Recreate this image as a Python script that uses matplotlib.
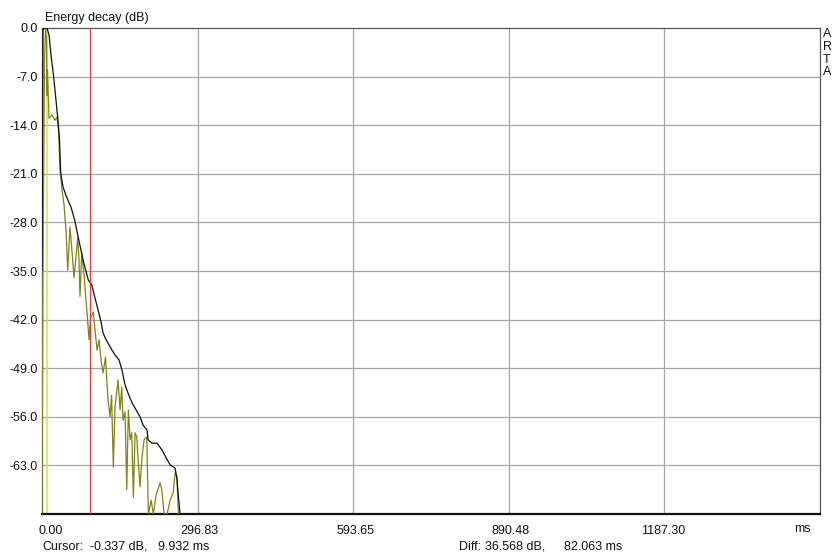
import matplotlib
matplotlib.use("Agg")
import matplotlib.pyplot as plt
import matplotlib.transforms as mtransforms

plt.rcParams['font.family'] = ['Liberation Sans', 'DejaVu Sans']

# Time axis (ms) and level axis (dB)
x_ticks = [0.00, 296.83, 593.65, 890.48, 1187.30]
x_max = 1484.13
y_ticks = [0.0, -7.0, -14.0, -21.0, -28.0, -35.0, -42.0, -49.0, -56.0, -63.0]
y_min = -70.0

# Integrated energy decay (black)
decay_t = [0.0, 1.9, 3.8, 9.5, 13.4, 17.2, 22.3, 26.7, 30.5, 33.4, 35.7, 40.1,
           45.8, 49.6, 55.4, 62.4, 70.1, 74.4, 78.3, 83.4, 88.4, 94.9, 101.2,
           106.9, 112.6, 116.4, 122.2, 126.0, 133.6, 139.3, 146.9, 152.7,
           158.4, 164.2, 171.8, 179.4, 187.1, 192.8, 200.4, 202.3, 210.0,
           219.5, 229.1, 236.7, 244.3, 253.9, 257.7, 259.6, 263.4, 265.3]
decay_db = [-34.9, -0.3, 0.0, 0.0, -1.0, -3.9, -7.1, -10.4, -13.3, -16.1, -20.9,
            -22.9, -24.1, -24.8, -25.8, -27.7, -30.5, -32.0, -33.4, -34.9,
            -36.3, -37.0, -38.9, -40.6, -42.3, -43.9, -44.9, -45.4, -46.4,
            -47.1, -47.8, -49.3, -51.4, -52.6, -54.0, -55.0, -56.0, -57.2,
            -57.9, -59.3, -59.8, -59.8, -60.8, -61.9, -62.9, -63.4, -65.1,
            -67.0, -70.0, -72.0]

# Energy-time curve (olive)
etc_t = [0.0, 1.9, 4.8, 6.7, 8.6, 9.5, 10.5, 13.4, 19.1, 24.8, 28.6, 31.5,
         34.4, 38.2, 42.0, 45.8, 49.1, 53.4, 56.3, 61.1, 68.1, 70.6, 72.5,
         75.8, 80.2, 86.5, 89.7, 92.6, 97.9, 101.2, 105.0, 108.8, 112.6,
         116.4, 121.2, 124.1, 126.0, 129.8, 132.7, 136.1, 139.3, 145.1,
         148.9, 152.1, 154.6, 158.4, 161.7, 164.7, 168.0, 171.2, 174.3,
         177.5, 180.8, 183.8, 187.1, 190.3, 194.7, 199.9, 202.9, 208.1,
         212.4, 217.6, 225.2, 228.5, 232.9, 238.6, 244.3, 250.1, 253.9,
         257.1, 260.2, 262.0]
etc_db = [-70.0, -34.9, -4.6, 0.0, -1.7, -9.7, -6.0, -13.0, -12.5, -13.3,
          -12.8, -14.7, -20.5, -23.3, -25.5, -29.1, -34.9, -28.7, -31.3,
          -36.0, -30.2, -33.4, -38.7, -32.4, -35.6, -41.6, -44.9, -41.8,
          -40.9, -43.5, -46.4, -44.9, -47.8, -49.7, -47.4, -51.4, -53.6,
          -56.0, -52.9, -63.2, -54.6, -50.7, -55.0, -51.7, -56.5, -55.3,
          -66.5, -55.0, -59.3, -58.3, -67.6, -58.3, -58.9, -62.7, -66.1,
          -62.2, -59.3, -58.9, -70.0, -68.0, -70.0, -67.3, -65.5, -66.5,
          -70.0, -70.0, -68.0, -67.0, -64.1, -64.4, -70.0, -73.0]

cursor_t = 9.932
diff_t = 82.063
marker_t = cursor_t + diff_t

W, H = 834, 556
fig = plt.figure(figsize=(W / 100, H / 100), dpi=100)
L, R, T, B = 42, 820, 28, 514
ax = fig.add_axes([L / W, 1 - B / H, (R - L) / W, (B - T) / H])
ax.set_xlim(0, x_max)
ax.set_ylim(y_min, 0)

# grid
for xv in x_ticks[1:]:
    ax.axvline(xv, color='#a6a6a6', lw=0.9, zorder=1)
for yv in y_ticks[1:]:
    ax.axhline(yv, color='#a6a6a6', lw=0.9, zorder=1)

ax.axvline(cursor_t, color='#d6de66', lw=1.1, zorder=2)
ax.plot(etc_t, etc_db, color='#7f8414', lw=0.9, zorder=3)
ax.plot(decay_t, decay_db, color='#111111', lw=0.9, zorder=4)
ax.axvline(marker_t, color='#e03a3a', lw=0.9, zorder=5)

for side in ['top', 'right', 'left']:
    ax.spines[side].set_color('#555555')
    ax.spines[side].set_linewidth(0.9)
ax.spines['bottom'].set_color('#111111')
ax.spines['bottom'].set_linewidth(1.6)

fs = 9.0
ax.set_yticks(y_ticks)
ax.set_yticklabels([f"{v:.1f}" for v in y_ticks], fontsize=fs, color='#111111')
ax.set_xticks(x_ticks)
ax.set_xticklabels([f"{v:.2f}" for v in x_ticks], fontsize=fs, color='#111111')
ax.tick_params(axis='both', length=0)
ax.tick_params(axis='y', pad=3)
ax.tick_params(axis='x', pad=8)
shift = mtransforms.ScaledTranslation(21 / 100, 0, fig.dpi_scale_trans)
for lab in ax.get_xticklabels():
    lab.set_horizontalalignment('right')
    lab.set_transform(lab.get_transform() + shift)

def ftext(px, py, s, **kw):
    fig.text(px / W, 1 - py / H, s, fontsize=fs, color='#111111',
             va='center', **kw)

ftext(45, 17.5, "Energy decay (dB)")
ftext(811, 529, "ms", ha='right')
for i, ch in enumerate("ARTA"):
    ftext(827, 34 + i * 12.8, ch, ha='center')

ftext(42.5, 546.5, "Cursor:")
ftext(90, 546.5, "-0.337 dB,")
ftext(158, 546.5, f"{cursor_t:.3f} ms")
ftext(459, 546.5, "Diff:")
ftext(485, 546.5, "36.568 dB,")
ftext(564, 546.5, f"{diff_t:.3f} ms")

fig.savefig("out.png", dpi=100, facecolor='white')
